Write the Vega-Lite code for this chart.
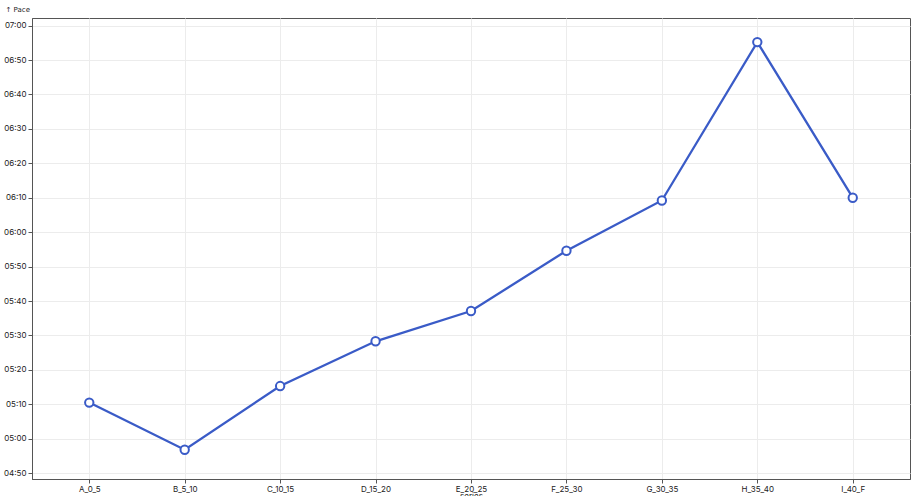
{
  "$schema": "https://vega.github.io/schema/vega-lite/v6.json",
  "width": 878,
  "height": 461,
  "autosize": "none",
  "padding": {"left": 32, "top": 18, "right": 8, "bottom": 17},
  "background": "white",
  "config": {
    "font": "Inter",
    "view": {"stroke": "#555", "strokeWidth": 1},
    "axis": {
      "labelFont": "Inter",
      "titleFont": "Inter",
      "labelFontSize": 8,
      "titleFontSize": 8,
      "titleFontWeight": "normal",
      "labelColor": "#222",
      "titleColor": "#222",
      "domainColor": "#555",
      "tickColor": "#555",
      "tickSize": 4,
      "labelPadding": 2,
      "gridColor": "#ececec",
      "gridWidth": 1
    }
  },
  "data": {
    "values": [
      {"series": "A_0_5", "pace": 310.5},
      {"series": "B_5_10", "pace": 296.8},
      {"series": "C_10_15", "pace": 315.3},
      {"series": "D_15_20", "pace": 328.3},
      {"series": "E_20_25", "pace": 337.1},
      {"series": "F_25_30", "pace": 354.6},
      {"series": "G_30_35", "pace": 369.2},
      {"series": "H_35_40", "pace": 415.2},
      {"series": "I_40_F", "pace": 370.0}
    ]
  },
  "encoding": {
    "x": {
      "field": "series",
      "type": "ordinal",
      "scale": {"type": "point", "padding": 0.6},
      "axis": {
        "labelAngle": 0,
        "grid": true,
        "title": "series",
        "titlePadding": 0,
        "titleY": 13,
        "titleBaseline": "top"
      }
    },
    "y": {
      "field": "pace",
      "type": "quantitative",
      "scale": {"domain": [288.3, 422.2], "nice": false, "zero": false},
      "axis": {
        "values": [290, 300, 310, 320, 330, 340, 350, 360, 370, 380, 390, 400, 410, 420],
        "labelExpr": "utcFormat(datum.value * 1000, '%M:%S')",
        "grid": true,
        "title": "↑ Pace",
        "titleFont": "DejaVu Sans",
        "titleFontSize": 7,
        "titleAngle": 0,
        "titleAlign": "left",
        "titleBaseline": "middle",
        "titleX": -27,
        "titleY": -9
      }
    }
  },
  "layer": [
    {
      "mark": {"type": "line", "color": "#3a5bc7", "strokeWidth": 2.3}
    },
    {
      "mark": {"type": "point", "filled": true, "fill": "white", "stroke": "#3a5bc7", "strokeWidth": 2, "size": 70, "opacity": 1}
    }
  ]
}
